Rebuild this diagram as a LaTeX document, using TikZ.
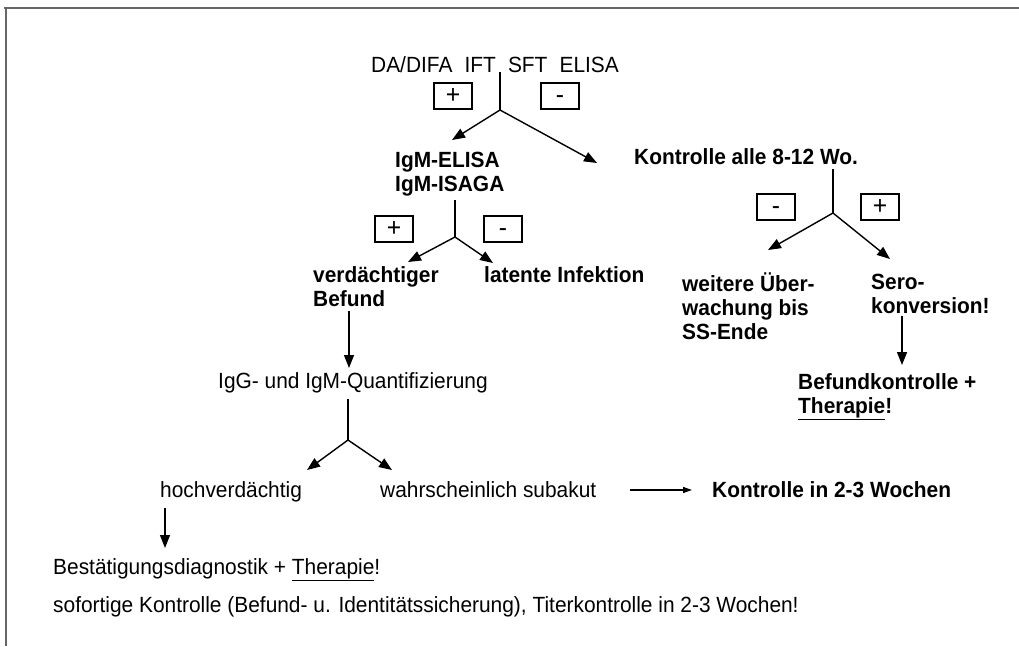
\documentclass[tikz,border=0pt]{standalone}
\usepackage{fontspec}
\setmainfont[FakeStretch=0.95]{Liberation Sans}
\usetikzlibrary{arrows.meta}
\begin{document}
\begin{tikzpicture}[x=1pt,y=-1pt,
  txt/.style={inner sep=0pt,font=\fontsize{22}{24}\selectfont},
  btxt/.style={inner sep=0pt,font=\fontsize{22}{24}\selectfont\bfseries},
  mtxt/.style={inner sep=0pt,align=left,anchor=north west,font=\fontsize{22}{24}\selectfont\bfseries},
  signbox/.style={draw,line width=1.2pt,minimum width=38pt,minimum height=26pt,inner sep=0pt,text height=15pt,text depth=0pt,font=\fontsize{26}{26}\selectfont},
  conn/.style={line width=1.4pt},
  arr/.style={line width=1.4pt,-{Triangle[length=13pt,width=10pt]}},
  sarr/.style={line width=1.4pt,-{Triangle[length=9pt,width=6pt]}},
  frame/.style={line width=1.6pt,draw=black!60}
]
\useasboundingbox (0,0) rectangle (1019,646);
\draw[frame] (4,8) -- (1019,8);
\draw[frame] (6,8) -- (6,646);

% top level
\node[txt,anchor=base] (t0) at (495,72) {DA/DIFA\hspace{0.55em}IFT\hspace{0.55em}SFT\hspace{0.55em}ELISA};
\node[signbox] (bp1) at (453,96) {+};
\node[signbox] (bm1) at (560,96) {-};
\coordinate (b1) at (500,110);
\coordinate (a1) at (452,140);
\coordinate (a2) at (597,163);
\draw[conn] (b1 |- t0.south) -- (b1);
\draw[arr] (b1) -- (a1);
\draw[arr] (b1) -- (a2);

% IgM
\node[mtxt] (igm) at (395,150) {\strut IgM-ELISA\\IgM-ISAGA};
\node[btxt,anchor=base west] (k1) at (634,164.5) {Kontrolle alle 8-12 Wo.};

% IgM branch
\coordinate (b3) at (455,237);
\node[signbox] (bp3) at (394,229) {+};
\node[signbox] (bm3) at (503,229) {-};
\coordinate (a3) at (408,262);
\coordinate (a4) at (493,263);
\draw[conn] (b3 |- igm.south) ++(0,4) -- (b3);
\draw[arr] (b3) -- (a3);
\draw[arr] (b3) -- (a4);

% Kontrolle branch
\coordinate (b2) at (833,213);
\node[signbox] (bm2) at (776,207) {-};
\node[signbox] (bp2) at (880,207) {+};
\coordinate (a5) at (768,250);
\coordinate (a6) at (890,259);
\draw[conn] (b2 |- k1.south) ++(0,4) -- (b2);
\draw[arr] (b2) -- (a5);
\draw[arr] (b2) -- (a6);

% level 3
\node[mtxt] (vb) at (313,265.7) {\strut verdächtiger\\Befund};
\node[btxt,anchor=base west] (li) at (484,282.5) {latente Infektion};
\node[mtxt] (wu) at (682,272.7) {\strut weitere Über-\\wachung bis\\SS-Ende};
\node[mtxt] (sk) at (871,272.7) {\strut Sero-\\konversion!};

\coordinate (a7) at (902,365);
\draw[arr] (a7 |- sk.south) ++(0,2) -- (a7);
\node[mtxt] (bk) at (798,372.7) {\strut Befundkontrolle +\\\underline{Therapie}!};

\coordinate (a8) at (349,368);
\draw[arr] (a8 |- vb.south) ++(0,4) -- (a8);
\node[txt,anchor=base west] (q) at (218,388.5) {IgG- und IgM-Quantifizierung};

% IgG branch
\coordinate (b4) at (348,440);
\coordinate (a9) at (307,470);
\coordinate (a10) at (392,470);
\draw[conn] (b4 |- q.south) ++(0,6) -- (b4);
\draw[arr] (b4) -- (a9);
\draw[arr] (b4) -- (a10);

\node[txt,anchor=base west] (hv) at (160,497.5) {hochverdächtig};
\node[txt,anchor=base west] (ws) at (380,497.5) {wahrscheinlich subakut};
\node[btxt,anchor=base west] (k2) at (712,497.5) {Kontrolle in 2-3 Wochen};
\coordinate (a11) at (630,490);
\coordinate (a12) at (692,490);
\draw[sarr] (a11) -- (a12);

\coordinate (a13) at (165,548);
\draw[arr] (a13 |- hv.south) ++(0,6) -- (a13);
\node[txt,anchor=base west] (bd) at (53,574.5) {Bestätigungsdiagnostik + \underline{Therapie}!};
\node[txt,anchor=base west] (sf) at (53,612.5) {sofortige Kontrolle (Befund- u. Identitätssicherung), Titerkontrolle in 2-3 Wochen!};
\end{tikzpicture}
\end{document}
